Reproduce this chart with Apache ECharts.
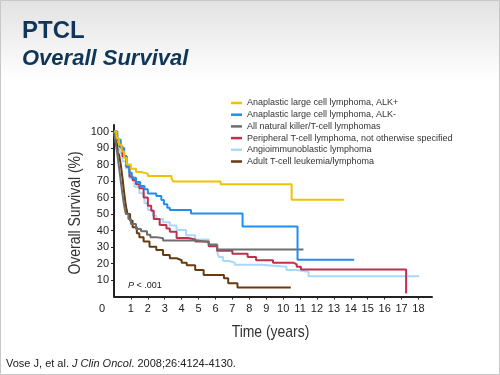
<!DOCTYPE html>
<html>
<head>
<meta charset="utf-8">
<script src="https://cdn.jsdelivr.net/npm/echarts@6/dist/echarts.min.js"></script>
<style>
  html, body { margin: 0; padding: 0; background: #fff; }
  #main { width: 500px; height: 375px; }
</style>
</head>
<body>
<div id="main"></div>
<script>
// series names (legend order)
var names = [
    'Anaplastic large cell lymphoma, ALK+',
    'Anaplastic large cell lymphoma, ALK-',
    'All natural killer/T-cell lymphomas',
    'Peripheral T-cell lymphoma, not otherwise specified',
    'Angioimmunoblastic lymphoma',
    'Adult T-cell leukemia/lymphoma'
];
var colors = ['#f2c200', '#1e8ff2', '#6e6e6e', '#c0304c', '#a9d9f8', '#6a3a0e'];

// Kaplan-Meier steps: time (years) and overall survival (%)
var alkPosT = [0, 0.15, 0.3, 0.45, 0.6, 0.75, 1.0, 1.3, 1.6, 2.0, 3.4, 3.5, 6.3, 10.5, 13.6];
var alkPosS = [100, 96, 92, 88, 84, 80, 77.5, 75.5, 74.5, 73, 71.5, 69.8, 68, 58.7, 58.7];

var alkNegT = [0, 0.2, 0.4, 0.6, 0.75, 0.9, 1.05, 1.3, 1.55, 1.8, 2.0, 2.5, 2.8, 2.95, 3.15, 3.3, 4.55, 7.6, 10.85, 14.2];
var alkNegS = [100, 95, 90, 85, 79, 75, 72, 69.5, 67, 65, 62.5, 61, 58.5, 56, 53.8, 52.4, 50.4, 42.5, 22.3, 22.3];

var nkT = [0, 0.1, 0.2, 0.3, 0.4, 0.5, 0.6, 0.7, 0.85, 1.0, 1.3, 1.6, 1.95, 2.15, 2.5, 2.9, 4.9, 5.6, 6.1, 11.2];
var nkS = [100, 93, 86, 78, 70, 62, 55, 50, 47, 44, 41, 39.5, 37.5, 36, 35.3, 34, 33, 31.6, 28.5, 28.5];

var nosT = [0, 0.15, 0.33, 0.5, 0.73, 0.92, 1.1, 1.3, 1.5, 1.75, 2.0, 2.2, 2.35, 2.7, 3.1, 3.3, 3.7, 4.4, 4.8, 5.6, 6.1, 7.0, 7.9, 8.4, 9.4, 10.6, 10.8, 11.05, 17.27, 17.27];
var nosS = [100, 95, 91, 85, 78.7, 72.7, 70.5, 68, 65.6, 60, 55, 52, 47, 43.3, 41.3, 39.3, 35.5, 34.6, 33.3, 30.5, 27.7, 26, 24, 22, 20.5, 19.5, 18, 16.3, 16.3, 1.8];

var aitlT = [0, 0.15, 0.33, 0.5, 0.7, 0.9, 1.2, 1.5, 1.8, 2.0, 2.3, 2.5, 2.9, 3.3, 3.7, 4.26, 4.8, 5.6, 6.1, 6.2, 6.45, 6.8, 7.15, 8.7, 10.2, 10.8, 11.5, 18.05];
var aitlS = [100, 95, 87, 82, 77.7, 71.7, 66.6, 62.6, 56.5, 52.4, 49, 47, 45, 43, 40.3, 37.2, 34.6, 31.2, 27, 24, 21.5, 20.5, 19.2, 18, 16, 15, 12.3, 12.3];

var atllT = [0, 0.1, 0.2, 0.3, 0.4, 0.5, 0.6, 0.7, 0.8, 0.95, 1.1, 1.35, 1.5, 1.75, 2.1, 2.5, 2.9, 3.3, 3.7, 4.0, 4.3, 4.8, 5.3, 6.5, 6.75, 7.3, 10.45];
var atllS = [100, 96, 91, 86, 80, 72, 63, 55, 50, 46, 42, 38.3, 36, 33.3, 30.2, 28.2, 25.2, 23.2, 22, 20.5, 19, 16.1, 13, 11, 8, 5.5, 5.5];

var xTicks = [1, 2, 3, 4, 5, 6, 7, 8, 9, 10, 11, 12, 13, 14, 15, 16, 17, 18];
var yTicks = [10, 20, 30, 40, 50, 60, 70, 80, 90, 100];

var curves = [
    [alkPosT, alkPosS], [alkNegT, alkNegS], [nkT, nkS],
    [nosT, nosS], [aitlT, aitlS], [atllT, atllS]
];

function pairs(t, s) {
    return t.map(function (v, i) { return [v, s[i]]; });
}

var sans = 'Arial, "Liberation Sans", sans-serif';

var series = curves.map(function (c, i) {
    return {
        name: names[i],
        type: 'line',
        step: 'end',
        data: pairs(c[0], c[1]),
        showSymbol: false,
        symbol: 'none',
        z: 10 - i,
        lineStyle: { color: colors[i], width: 2 },
        itemStyle: { color: colors[i] }
    };
});

var chart = echarts.init(document.getElementById('main'));
chart.setOption({
    animation: false,
    backgroundColor: '#fff',
    grid: { left: 114, top: 125, right: 68, bottom: 78.5 },
    legend: {
        orient: 'vertical',
        left: 226,
        top: 92.5,
        icon: 'rect',
        itemWidth: 11,
        itemHeight: 2.5,
        itemGap: 0.7,
        textStyle: { fontFamily: sans, fontSize: 9, color: '#333', lineHeight: 11 },
        data: names
    },
    xAxis: {
        type: 'value',
        min: 0,
        max: 18.8,
        interval: 1,
        splitLine: { show: false },
        axisLine: { lineStyle: { color: '#222', width: 2 } },
        axisTick: { customValues: xTicks, length: 3, lineStyle: { color: '#222', width: 1 } },
        axisLabel: { customValues: xTicks, margin: 7, fontFamily: sans, fontSize: 11, color: '#222' }
    },
    yAxis: {
        type: 'value',
        min: 0,
        max: 104,
        interval: 10,
        splitLine: { show: false },
        axisLine: { lineStyle: { color: '#222', width: 2 } },
        axisTick: { customValues: yTicks, length: 3, lineStyle: { color: '#222', width: 1 } },
        axisLabel: { customValues: yTicks, margin: 5, fontFamily: sans, fontSize: 11, color: '#222' }
    },
    graphic: [
        {
            type: 'rect', silent: true, z: -10,
            shape: { x: 0, y: 0, width: 500, height: 80 },
            style: {
                fill: new echarts.graphic.LinearGradient(0, 0, 0, 1, [
                    { offset: 0, color: '#e2e2e2' },
                    { offset: 1, color: '#ffffff' }
                ])
            }
        },
        {
            type: 'rect', silent: true, z: 100,
            shape: { x: 0.5, y: 0.5, width: 499, height: 374 },
            style: { fill: 'none', stroke: '#c8c8c8', lineWidth: 1 }
        },
        {
            type: 'text', left: 22, top: 19,
            style: { text: 'PTCL', font: 'bold 24px ' + sans, fill: '#0f3658' }
        },
        {
            type: 'text', left: 22, top: 48,
            style: { text: 'Overall Survival', font: 'italic bold 22px ' + sans, fill: '#0f3658' }
        },
        // axis titles, narrowed to match the condensed face of the original
        {
            type: 'text', x: 75, y: 213, rotation: Math.PI / 2, scaleX: 0.82,
            style: { text: 'Overall Survival (%)', font: '17px ' + sans, fill: '#333', align: 'center', verticalAlign: 'middle' }
        },
        {
            type: 'text', x: 270.5, y: 332, scaleX: 0.82,
            style: { text: 'Time (years)', font: '17px ' + sans, fill: '#333', align: 'center', verticalAlign: 'middle' }
        },
        {
            type: 'text', left: 99, top: 303,
            style: { text: '0', font: '11px ' + sans, fill: '#222' }
        },
        {
            type: 'text', left: 128, top: 281,
            style: {
                text: '{i|P} < .001',
                font: '9px ' + sans,
                fill: '#222',
                rich: { i: { fontStyle: 'italic', fontSize: 9, fontFamily: sans, fill: '#222' } }
            }
        },
        {
            type: 'text', left: 6, top: 358,
            style: {
                text: 'Vose J, et al. {i|J Clin Oncol}. 2008;26:4124-4130.',
                font: '11px ' + sans,
                fill: '#222',
                rich: { i: { fontStyle: 'italic', fontSize: 11, fontFamily: sans, fill: '#222' } }
            }
        }
    ],
    series: series
});
</script>
</body>
</html>
